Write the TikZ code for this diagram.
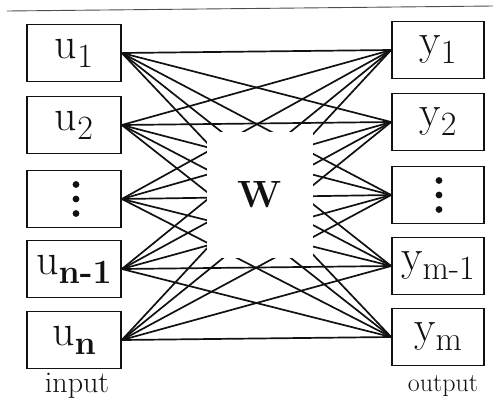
\documentclass[tikz,border=0pt]{standalone}
\usepackage{fontspec}
\usepackage{tikz}
\usetikzlibrary{positioning}
\definecolor{ink}{HTML}{111111}
\tikzset{
  % --- nodes
  unit/.style = {draw=ink, line width=1.7pt, fill=white, minimum width=94pt,
                 minimum height=57pt, inner sep=0pt, text=ink,
                 font=\fontsize{44}{46}\selectfont},
  wbox/.style = {fill=white, minimum width=106pt, minimum height=126pt, inner sep=0pt,
                 text=ink, font=\fontsize{38}{40}\selectfont\bfseries},
  tag/.style  = {inner sep=0pt, text=ink},
  % --- edges
  e/.style    = {draw=ink, line width=1.7pt},
  rule/.style = {draw=ink!75, line width=0.9pt},
}
\newcommand{\subs}[1]{\raisebox{-9pt}{\fontsize{34}{36}\selectfont #1}}

\begin{document}
\begin{tikzpicture}[x=1pt,y=-1pt]
  \useasboundingbox (0,0) rectangle (493,400);
  \draw[rule] (7,11) -- (493,6);

  \node[unit] (u1)  at (74,53)  {u\subs{1}};
  \node[unit] (u2)  at (74,125) {u\subs{2}};
  \node[unit] (ud)  at (74,199) {};
  \node[unit] (un1) at (74,269) {u\subs{\bfseries n-1}};
  \node[unit] (un)  at (74,340) {u\subs{\bfseries n}};

  \node[unit,minimum width=92pt] (y1)  at (438,50)  {y\subs{1}};
  \node[unit,minimum width=92pt] (y2)  at (438,122) {y\subs{2}};
  \node[unit,minimum width=92pt] (yd)  at (438,195) {};
  \node[unit,minimum width=92pt] (ym1) at (438,266) {y\subs{m-1}};
  \node[unit,minimum width=92pt] (ym)  at (438,337) {y\subs{m}};

  \foreach \a in {u1,u2,ud,un1,un}
    \foreach \b in {y1,y2,yd,ym1,ym}
      \draw[e] (\a.east) -- (\b.west);

  \node[wbox] (w) at (260,195) {W};

  \foreach \k in {-1,0,1} {
    \fill[ink] (ud.center) ++(2,\k*14.5) circle (3.4pt);
    \fill[ink] (yd.center) ++(1,\k*14.5) circle (3.4pt);
  }

  \node[tag,font=\fontsize{30}{32}\selectfont] (inlbl)  at (77,386)  {input};
  \node[tag,font=\fontsize{26}{28}\selectfont] (outlbl) at (443,386) {output};
\end{tikzpicture}
\end{document}
